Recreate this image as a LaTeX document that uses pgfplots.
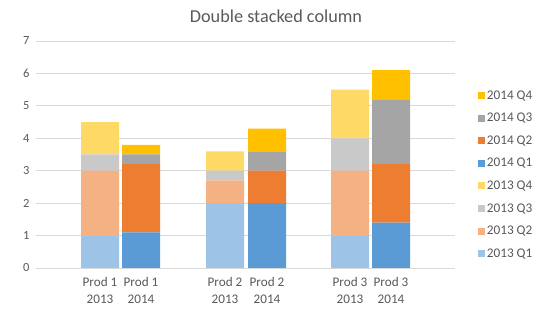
\documentclass[border=0pt]{standalone}
\usepackage{fontspec}
\setmainfont{Carlito}
\usepackage{pgfplots}
\pgfplotsset{compat=1.18}
\definecolor{aQa}{RGB}{157,195,230}
\definecolor{aQb}{RGB}{244,177,131}
\definecolor{aQc}{RGB}{201,201,201}
\definecolor{aQd}{RGB}{255,217,102}
\definecolor{bQa}{RGB}{91,155,213}
\definecolor{bQb}{RGB}{237,125,49}
\definecolor{bQc}{RGB}{165,165,165}
\definecolor{bQd}{RGB}{255,192,0}
\definecolor{txt}{RGB}{89,89,89}
\definecolor{gridc}{RGB}{217,217,217}
\pgfplotsset{mybar/.style={fill=#1, draw=none,
  legend image code/.code={\fill[#1] (0bp,-3.5bp) rectangle (7bp,3.5bp);}}}
\begin{document}
\begin{tikzpicture}
\path[use as bounding box] (0,0) rectangle (542bp,321bp);
\node[text=txt, font=\fontsize{18.3}{20}\selectfont] at (276bp,305bp) {Double stacked column};
\begin{axis}[
  at={(36bp,53bp)}, anchor=south west, scale only axis,
  width=419bp, height=227bp,
  ybar stacked, bar width=38,
  xmin=36, xmax=455, ymin=0, ymax=7,
  ytick={0,1,...,7},
  xtick={100,141,225,267,350,391},
  xticklabels={Prod 1\\2013, Prod 1\\2014, Prod 2\\2013, Prod 2\\2014, Prod 3\\2013, Prod 3\\2014},
  xticklabel style={align=center, yshift=-6bp, font=\fontsize{13.2}{17}\selectfont},
  yticklabel style={xshift=-3bp, font=\fontsize{12.5}{16}\selectfont},
  axis line style={draw=none},
  major tick length=0pt,
  ymajorgrids, grid style={gridc, line width=0.9bp},
  tick label style={text=txt},
  /pgf/number format/assume math mode=true,
  reverse legend,
  legend style={at={(1.047,0.80)}, anchor=north west, draw=none, fill=none,
    font=\fontsize{13.3}{15}\selectfont, text=txt, row sep=8.5bp,
    /tikz/every even column/.append style={column sep=1bp}},
  legend cell align=left,
]
\addplot[mybar=aQa] coordinates {(100,1) (141,0) (225,2) (267,0) (350,1) (391,0)};
\addplot[mybar=aQb] coordinates {(100,2) (141,0) (225,0.7) (267,0) (350,2) (391,0)};
\addplot[mybar=aQc] coordinates {(100,0.5) (141,0) (225,0.3) (267,0) (350,1) (391,0)};
\addplot[mybar=aQd] coordinates {(100,1) (141,0) (225,0.6) (267,0) (350,1.5) (391,0)};
\addplot[mybar=bQa] coordinates {(100,0) (141,1.1) (225,0) (267,2) (350,0) (391,1.4)};
\addplot[mybar=bQb] coordinates {(100,0) (141,2.1) (225,0) (267,1) (350,0) (391,1.8)};
\addplot[mybar=bQc] coordinates {(100,0) (141,0.3) (225,0) (267,0.6) (350,0) (391,2)};
\addplot[mybar=bQd] coordinates {(100,0) (141,0.3) (225,0) (267,0.7) (350,0) (391,0.9)};
\legend{2013 Q1,2013 Q2,2013 Q3,2013 Q4,2014 Q1,2014 Q2,2014 Q3,2014 Q4}
\end{axis}
\end{tikzpicture}
\end{document}
